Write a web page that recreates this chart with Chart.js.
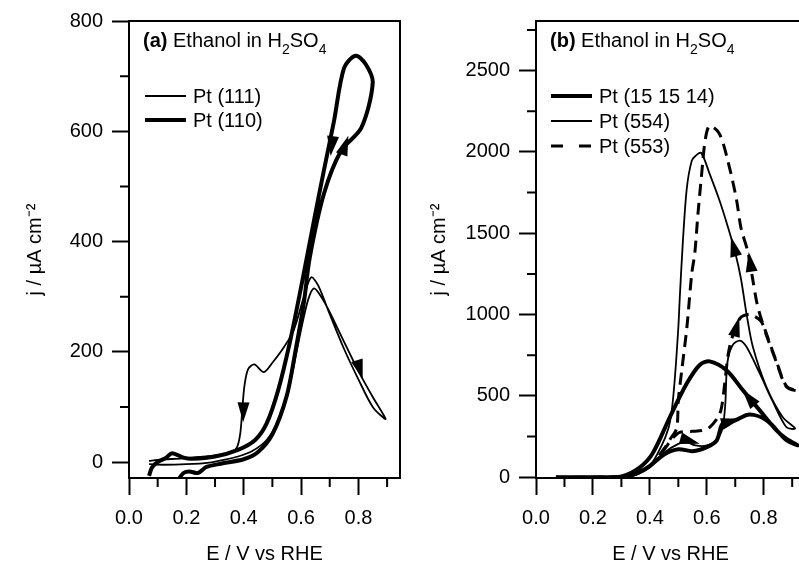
<!DOCTYPE html>
<html>
<head>
<meta charset="utf-8">
<script src="https://cdn.jsdelivr.net/npm/chart.js@4.4.1/dist/chart.umd.min.js"></script>
<style>
  html, body { margin: 0; padding: 0; overflow: hidden; background: #fff; }
  body { width: 799px; height: 562px; position: relative; font-family: "Liberation Sans", Arial, sans-serif; }
  #boxA { position: absolute; left: 0; top: 0; }
  #boxB { position: absolute; left: 400px; top: 0; }
  .note { position: absolute; font-size: 20px; line-height: 20px; white-space: nowrap; color: #000; }
  .note sub { font-size: 14px; line-height: 0; vertical-align: -7px; }
</style>
</head>
<body>
<canvas id="boxA" width="403" height="562"></canvas>
<canvas id="boxB" width="420" height="562"></canvas>
<div class="note" style="left:143px; top:30px"><b>(a)</b> Ethanol in H<sub>2</sub>SO<sub>4</sub></div>
<div class="note" style="left:550px; top:30px"><b>(b)</b> Ethanol in H<sub>2</sub>SO<sub>4</sub></div>
<script>
// ---- panel (a) ----
const pt111E = [0.07, 0.12, 0.2, 0.28, 0.33, 0.38, 0.43, 0.48, 0.52, 0.56, 0.6, 0.625, 0.645, 0.67, 0.7, 0.75, 0.8, 0.85, 0.895,
  0.85, 0.8, 0.75, 0.7, 0.66, 0.635, 0.61, 0.575, 0.54, 0.5, 0.47, 0.437, 0.415, 0.402, 0.395, 0.388, 0.377, 0.36, 0.3, 0.2, 0.1, 0.07];
const pt111J = [-4, -5, -4, -1, 4, 10, 20, 40, 75, 140, 240, 295, 315, 300, 272, 218, 165, 118, 78,
  100, 150, 205, 268, 320, 335, 300, 240, 208, 180, 163, 177, 168, 136, 94, 52, 27, 18, 12, 7, 4, 2];

const pt110E = [0.17, 0.19, 0.21, 0.24, 0.27, 0.32, 0.4, 0.45, 0.5, 0.55, 0.58, 0.61, 0.63, 0.68, 0.74, 0.81, 0.85,
  0.825, 0.79, 0.75, 0.715, 0.68, 0.645, 0.6, 0.56, 0.52, 0.48, 0.44, 0.38, 0.3, 0.22, 0.19, 0.15, 0.13, 0.1, 0.08, 0.07];
const pt110J = [-33, -20, -17, -20, -9, -3, 5, 18, 50, 120, 200, 290, 370, 487, 565, 606, 688,
  722, 737, 715, 619, 530, 438, 317, 215, 130, 70, 40, 22, 10, 6, 8, 16, 8, 0, -10, -25];

// arrows: [E tail, j tail, E tip, j tip]
const arrowsA = [[0.715, 605, 0.703, 555], [0.735, 548, 0.765, 592], [0.40, 125, 0.398, 72], [0.787, 198, 0.815, 150]];
const labelsA = ["Pt (111)", "Pt (110)"];
const ticksXA = [0, 0.2, 0.4, 0.6, 0.8];
const ticksYA = [0, 200, 400, 600, 800];
const minorXA = [0.1, 0.3, 0.5, 0.7, 0.9];
const minorYA = [100, 300, 500, 700];

// ---- panel (b) ----
const pt151514E = [0.07, 0.2, 0.3, 0.35, 0.4, 0.45, 0.5, 0.55, 0.6, 0.635, 0.656, 0.7, 0.75, 0.81, 0.88, 0.92,
  0.88, 0.845, 0.786, 0.727, 0.67, 0.61, 0.575, 0.53, 0.47, 0.41, 0.365, 0.3, 0.2, 0.07];
const pt151514J = [0, 0, 3, 20, 70, 140, 172, 160, 185, 227, 331, 350, 385, 350, 227, 196,
  235, 288, 411, 534, 656, 712, 690, 577, 368, 147, 61, 5, 0, 0];

const pt554E = [0.07, 0.2, 0.3, 0.35, 0.4, 0.45, 0.5, 0.53, 0.56, 0.6, 0.635, 0.655, 0.665, 0.672, 0.69, 0.716, 0.74, 0.786, 0.83, 0.88, 0.91,
  0.867, 0.81, 0.762, 0.74, 0.72, 0.7, 0.675, 0.645, 0.61, 0.58, 0.56, 0.547, 0.53, 0.516, 0.505, 0.5, 0.488, 0.477, 0.465, 0.44, 0.4, 0.35, 0.3, 0.07];
const pt554J = [0, 0, 3, 15, 60, 150, 205, 215, 195, 195, 230, 300, 450, 700, 810, 840, 800, 638, 472, 307, 300,
  368, 552, 800, 1000, 1220, 1380, 1534, 1700, 1865, 1994, 1975, 1945, 1780, 1450, 1100, 920, 613, 411, 300, 190, 70, 15, 3, 0];

const pt553E = [0.07, 0.2, 0.3, 0.35, 0.4, 0.45, 0.48, 0.505, 0.55, 0.586, 0.61, 0.64, 0.652, 0.663, 0.68, 0.716, 0.75, 0.79, 0.81, 0.845, 0.88, 0.92,
  0.88, 0.845, 0.81, 0.79, 0.775, 0.762, 0.745, 0.72, 0.705, 0.68, 0.645, 0.61, 0.595, 0.582, 0.569, 0.558, 0.547, 0.53, 0.512, 0.5, 0.494, 0.47, 0.45, 0.4, 0.35, 0.3, 0.07];
const pt553J = [0, 0, 3, 18, 70, 170, 240, 276, 282, 288, 307, 370, 430, 577, 800, 975, 1000, 960, 870, 705, 555, 530,
  560, 710, 880, 980, 1080, 1210, 1380, 1534, 1700, 1902, 2110, 2160, 2080, 1865, 1620, 1380, 1250, 920, 656, 472, 300, 230, 175, 70, 18, 3, 0];

const arrowsB = [[0.70, 1380, 0.685, 1478], [0.762, 1215, 0.747, 1385], [0.69, 830, 0.714, 985],
  [0.76, 462, 0.725, 538], [0.67, 336, 0.72, 360], [0.525, 230, 0.575, 205]];
const labelsB = ["Pt (15 15 14)", "Pt (554)", "Pt (553)"];
const ticksXB = [0, 0.2, 0.4, 0.6, 0.8];
const ticksYB = [0, 500, 1000, 1500, 2000, 2500];
const minorXB = [0.1, 0.3, 0.5, 0.7, 0.9];
const minorYB = [250, 750, 1250, 1750, 2250, 2750];

const FONT = { family: '"Liberation Sans", Arial, sans-serif', size: 20 };

function pts(E, J) {
  return E.map((e, i) => ({ x: e, y: J[i] }));
}

// box top/right + minor ticks
const frame = {
  id: "frame",
  afterDraw(chart, args, opts) {
    const { ctx, chartArea: a } = chart;
    const xs = chart.scales.x, ys = chart.scales.y;
    ctx.save();
    ctx.strokeStyle = "#000";
    ctx.lineWidth = 2;
    ctx.beginPath();
    ctx.moveTo(a.left - 1, a.top);
    ctx.lineTo(a.right, a.top);
    ctx.lineTo(a.right, a.bottom);
    opts.minorX.forEach(v => {
      const p = xs.getPixelForValue(v);
      ctx.moveTo(p, a.bottom);
      ctx.lineTo(p, a.bottom + 9);
    });
    opts.minorY.forEach(v => {
      const p = ys.getPixelForValue(v);
      ctx.moveTo(a.left, p);
      ctx.lineTo(a.left - 9, p);
    });
    ctx.stroke();
    ctx.restore();
  }
};

const arrowHeads = {
  id: "arrowHeads",
  afterDatasetsDraw(chart, args, opts) {
    const { ctx } = chart;
    const xs = chart.scales.x, ys = chart.scales.y;
    ctx.save();
    ctx.fillStyle = "#000";
    opts.items.forEach(([e0, j0, e1, j1]) => {
      const x0 = xs.getPixelForValue(e0), y0 = ys.getPixelForValue(j0);
      const x1 = xs.getPixelForValue(e1), y1 = ys.getPixelForValue(j1);
      const len = Math.hypot(x1 - x0, y1 - y0);
      const ux = (x1 - x0) / len, uy = (y1 - y0) / len;
      const bx = x1 - ux * 20, by = y1 - uy * 20;
      ctx.beginPath();
      ctx.moveTo(x1, y1);
      ctx.lineTo(bx - uy * 6, by + ux * 6);
      ctx.lineTo(bx + uy * 6, by - ux * 6);
      ctx.closePath();
      ctx.fill();
    });
    ctx.restore();
  }
};

const inLegend = {
  id: "inLegend",
  afterDraw(chart, args, opts) {
    const { ctx, chartArea: a } = chart;
    ctx.save();
    ctx.font = '20px "Liberation Sans", Arial, sans-serif';
    ctx.textBaseline = "middle";
    ctx.fillStyle = "#000";
    ctx.strokeStyle = "#000";
    chart.data.datasets.forEach((ds, i) => {
      const x = a.left + opts.x;
      const y = a.top + opts.y + i * opts.gap;
      ctx.lineWidth = ds.borderWidth;
      ctx.setLineDash(ds.borderDash ? [12, 16] : []);
      ctx.beginPath();
      ctx.moveTo(x, y);
      ctx.lineTo(x + 41, y);
      ctx.stroke();
      ctx.setLineDash([]);
      ctx.fillText(ds.label, x + 48, y + 1);
    });
    ctx.restore();
  }
};

function scales(xMax, yMin, yMax, xTicks, yTicks, yWidth, titlePad) {
  return {
    x: {
      type: "linear", min: 0, max: xMax,
      afterBuildTicks: s => { s.ticks = xTicks.map(v => ({ value: v })); },
      afterFit: s => { s.height = 84; },
      ticks: { autoSkip: false, maxRotation: 0,
        callback: v => v.toFixed(1), color: "#000", font: FONT, padding: 11 },
      grid: { drawOnChartArea: false, tickLength: 17, tickWidth: 2, tickColor: "#000" },
      border: { color: "#000", width: 2 },
      title: { display: true, text: "E / V vs RHE", color: "#000", font: FONT, padding: { top: 0, bottom: -4 } }
    },
    y: {
      type: "linear", min: yMin, max: yMax,
      afterBuildTicks: s => { s.ticks = yTicks.map(v => ({ value: v })); },
      afterFit: s => { s.width = yWidth; },
      ticks: { autoSkip: false, callback: v => String(v), color: "#000", font: FONT, padding: 9 },
      grid: { drawOnChartArea: false, tickLength: 17, tickWidth: 2, tickColor: "#000" },
      border: { color: "#000", width: 2 },
      title: { display: true, text: "j / µA cm⁻²", color: "#000", font: FONT, padding: { top: titlePad, bottom: 0 } }
    }
  };
}

function line(label, E, J, width, dash) {
  return {
    label: label, data: pts(E, J), showLine: true, pointRadius: 0,
    borderColor: "#000", borderWidth: width, borderDash: dash || undefined,
    tension: 0.3, fill: false
  };
}

new Chart(document.getElementById("boxA"), {
  type: "scatter",
  data: {
    datasets: [
      line(labelsA[0], pt111E, pt111J, 1.8),
      line(labelsA[1], pt110E, pt110J, 4)
    ]
  },
  options: {
    responsive: false, animation: false, devicePixelRatio: 1,
    layout: { padding: { top: 20, right: 3, left: 0, bottom: 0 } },
    scales: scales(0.945, -29, 800, ticksXA, ticksYA, 129, 23),
    plugins: {
      legend: { display: false }, tooltip: { enabled: false },
      frame: { minorX: minorXA, minorY: minorYA },
      arrowHeads: { items: arrowsA },
      inLegend: { x: 16, y: 75, gap: 24 }
    }
  },
  plugins: [frame, arrowHeads, inLegend]
});

new Chart(document.getElementById("boxB"), {
  type: "scatter",
  data: {
    datasets: [
      line(labelsB[0], pt151514E, pt151514J, 4),
      line(labelsB[1], pt554E, pt554J, 1.8),
      line(labelsB[2], pt553E, pt553J, 3, [12, 7])
    ]
  },
  options: {
    responsive: false, animation: false, devicePixelRatio: 1,
    layout: { padding: { top: 20, right: 15, left: 0, bottom: 0 } },
    scales: scales(0.945, -5, 2805, ticksXB, ticksYB, 136, 27),
    plugins: {
      legend: { display: false }, tooltip: { enabled: false },
      frame: { minorX: minorXB, minorY: minorYB },
      arrowHeads: { items: arrowsB },
      inLegend: { x: 15, y: 75, gap: 25 }
    }
  },
  plugins: [frame, arrowHeads, inLegend]
});
</script>
</body>
</html>
